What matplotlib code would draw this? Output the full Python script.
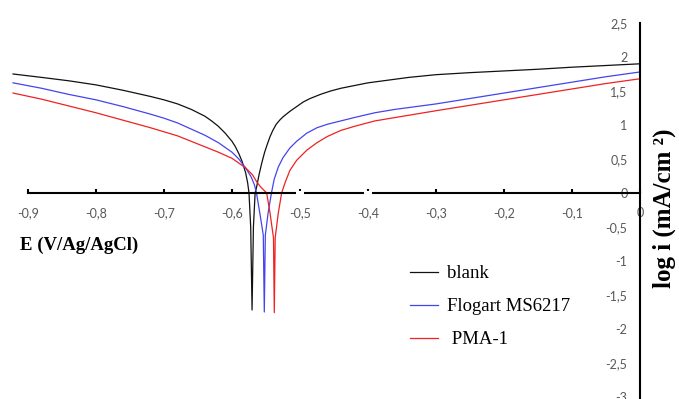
import matplotlib
matplotlib.use('Agg')
import matplotlib.pyplot as plt

# potential (V vs Ag/AgCl) and log i (mA/cm2)
e_blank = [-0.922, -0.88, -0.84, -0.80, -0.76, -0.72, -0.70, -0.68, -0.66, -0.64,
           -0.63, -0.62, -0.61, -0.60, -0.595, -0.59, -0.585, -0.58, -0.577, -0.575,
           -0.5725, -0.5705, -0.5685, -0.566, -0.564, -0.560, -0.556, -0.552, -0.548,
           -0.544, -0.540, -0.535, -0.530, -0.525, -0.520, -0.515, -0.505, -0.495,
           -0.485, -0.47, -0.455, -0.44, -0.42, -0.40, -0.37, -0.34, -0.30, -0.25,
           -0.20, -0.15, -0.10, -0.05, 0.0]
logi_blank = [1.75, 1.70, 1.65, 1.59, 1.51, 1.42, 1.37, 1.31, 1.23, 1.13,
              1.06, 0.98, 0.88, 0.76, 0.68, 0.58, 0.46, 0.30, 0.15, 0.0,
              -0.5, -1.72, -0.5, 0.0, 0.08, 0.28, 0.45, 0.60, 0.72,
              0.83, 0.92, 1.01, 1.07, 1.12, 1.16, 1.20, 1.27, 1.34,
              1.39, 1.45, 1.50, 1.54, 1.58, 1.62, 1.66, 1.70, 1.74, 1.77,
              1.795, 1.82, 1.85, 1.875, 1.90]

e_flogart = [-0.922, -0.88, -0.84, -0.80, -0.76, -0.72, -0.70, -0.68, -0.66, -0.64,
             -0.62, -0.61, -0.60, -0.59, -0.58, -0.572, -0.567, -0.564, -0.559, -0.554,
             -0.5525, -0.551, -0.547, -0.542, -0.538, -0.532, -0.525, -0.515, -0.505,
             -0.49, -0.475, -0.46, -0.44, -0.42, -0.39, -0.36, -0.33, -0.30, -0.25,
             -0.20, -0.15, -0.10, -0.05, 0.0]
logi_flogart = [1.62, 1.54, 1.45, 1.37, 1.27, 1.16, 1.10, 1.03, 0.94, 0.85,
                0.74, 0.67, 0.60, 0.50, 0.37, 0.24, 0.12, 0.0, -0.3, -0.62,
                -1.75, -0.62, -0.3, 0.0, 0.20, 0.38, 0.52, 0.66, 0.76,
                0.88, 0.96, 1.01, 1.06, 1.11, 1.18, 1.23, 1.27, 1.31, 1.39,
                1.47, 1.55, 1.63, 1.71, 1.78]

e_pma = [-0.922, -0.88, -0.84, -0.80, -0.76, -0.72, -0.70, -0.68, -0.66, -0.64,
         -0.62, -0.60, -0.58, -0.57, -0.564, -0.558, -0.549, -0.544, -0.539, -0.5378,
         -0.5365, -0.532, -0.527, -0.522, -0.515, -0.505, -0.49, -0.475, -0.46,
         -0.44, -0.42, -0.39, -0.36, -0.33, -0.30, -0.25, -0.20, -0.15, -0.10,
         -0.05, 0.0]
logi_pma = [1.47, 1.38, 1.28, 1.18, 1.07, 0.96, 0.90, 0.84, 0.76, 0.68,
            0.60, 0.51, 0.37, 0.27, 0.17, 0.09, 0.0, -0.3, -0.66, -1.76,
            -0.66, -0.3, 0.0, 0.15, 0.33, 0.48, 0.63, 0.74, 0.83,
            0.92, 0.98, 1.06, 1.11, 1.16, 1.21, 1.29, 1.37, 1.45, 1.53,
            1.61, 1.68]

labels = ['blank', 'Flogart MS6217', ' PMA-1']
colors = ['#111111', '#4444ee', '#ee2222']

xticks = [-0.9, -0.8, -0.7, -0.6, -0.5, -0.4, -0.3, -0.2, -0.1, 0.0]
xtick_labels = ['-0,9', '-0,8', '-0,7', '-0,6', '-0,5', '-0,4', '-0,3', '-0,2', '-0,1', '0']
yticks = [-3, -2.5, -2, -1.5, -1, -0.5, 0, 0.5, 1, 1.5, 2, 2.5]
ytick_labels = ['-3', '-2,5', '-2', '-1,5', '-1', '-0,5', '0', '0,5', '1', '1,5', '2', '2,5']
axis_gaps = [-0.5, -0.4]

fig = plt.figure(figsize=(6.79, 3.99), dpi=100)
ax = fig.add_axes([0, 0, 1, 1])
ax.set_facecolor('white')

for e, li, lab, c in zip([e_blank, e_flogart, e_pma],
                         [logi_blank, logi_flogart, logi_pma], labels, colors):
    ax.plot(e, li, color=c, lw=0.9, label=lab)

ax.set_xlim(-640 / 680, 39 / 680)
ax.set_ylim(-206 / 68, 193 / 68)

for s in ['top', 'right']:
    ax.spines[s].set_visible(False)
ax.spines['left'].set_position(('data', 0))
ax.spines['left'].set_bounds(-3.1, 2.5)
ax.spines['bottom'].set_position(('data', 0))
ax.spines['bottom'].set_bounds(-0.9, 0)
for s in ['left', 'bottom']:
    ax.spines[s].set_linewidth(1.5)

ax.set_xticks(xticks)
ax.set_xticklabels(xtick_labels)
ax.set_yticks(yticks)
ax.set_yticklabels(ytick_labels)
ax.tick_params(axis='x', direction='in', length=3, width=1.5, pad=10,
               labelsize=9, labelcolor='#595959')
ax.tick_params(axis='y', length=0, pad=9, labelsize=9, labelcolor='#595959')
for t in ax.get_xticklabels() + ax.get_yticklabels():
    t.set_family('Lato')

# little breaks in the x axis line seen in the original
for g in axis_gaps:
    ax.plot([g - 0.006, g + 0.006], [0, 0], color='white', lw=3, zorder=3,
            solid_capstyle='butt')

ax.legend(loc='upper left', bbox_to_anchor=(410 / 679, 1 - 265 / 399),
          frameon=False, borderpad=0, borderaxespad=0,
          handlelength=1.5, handletextpad=0.45, labelspacing=0.85,
          prop={'family': 'Liberation Serif', 'size': 13.5})

fig.text(20 / 679, 1 - 245 / 399, 'E (V/Ag/AgCl)', family='Liberation Serif',
         fontweight='bold', fontsize=13.5, ha='left', va='center')
fig.text(664 / 679, 1 - 208 / 399, 'log i (mA/cm ²)', family='Liberation Serif',
         fontweight='bold', fontsize=18, rotation=90, ha='center', va='center')

fig.savefig('out.png', dpi=100)
